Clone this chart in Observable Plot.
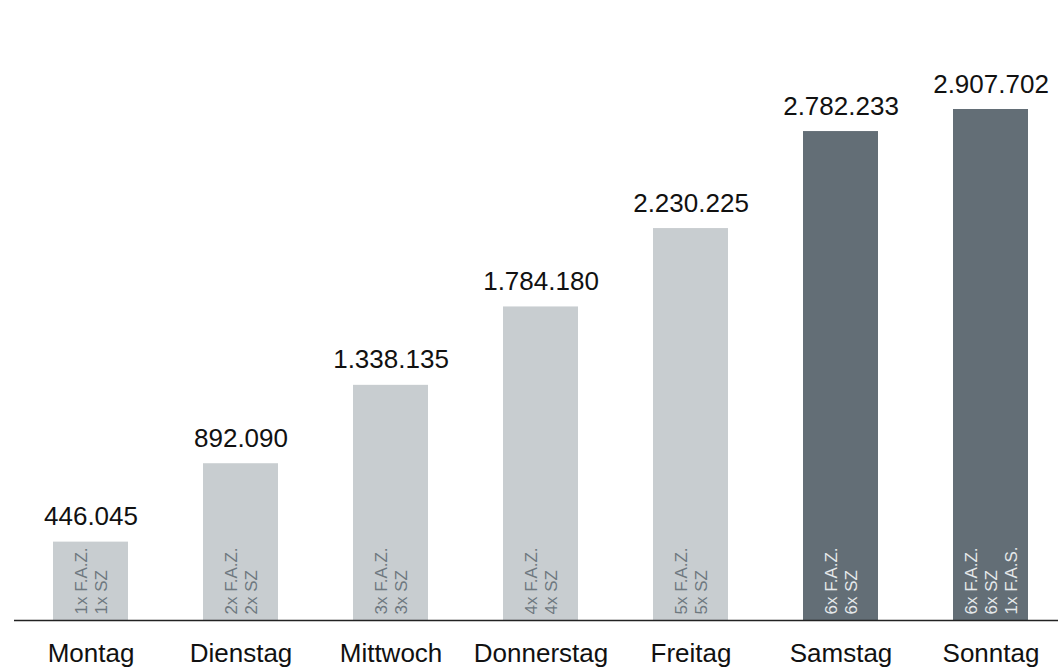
<!DOCTYPE html>
<html>
<head>
<meta charset="utf-8">
<script src="https://cdn.jsdelivr.net/npm/d3@7"></script>
<script src="https://cdn.jsdelivr.net/npm/@observablehq/plot@0.6"></script>
<style>
  html, body { margin: 0; padding: 0; background: #fff; }
  #chart svg { display: block; font-family: "Liberation Sans", Arial, sans-serif; }
</style>
</head>
<body>
<div id="chart"></div>
<script>
const days = ["Montag", "Dienstag", "Mittwoch", "Donnerstag", "Freitag", "Samstag", "Sonntag"];
const values = [446045, 892090, 1338135, 1784180, 2230225, 2782233, 2907702];
const insideLabels = [
  "1x F.A.Z.\n1x SZ",
  "2x F.A.Z.\n2x SZ",
  "3x F.A.Z.\n3x SZ",
  "4x F.A.Z.\n4x SZ",
  "5x F.A.Z.\n5x SZ",
  "6x F.A.Z.\n6x SZ",
  "6x F.A.Z.\n6x SZ\n1x F.A.S."
];
const groups = ["werktag", "werktag", "werktag", "werktag", "werktag", "wochenende", "wochenende"];

const data = days.map((d, i) => ({day: d, value: values[i], inside: insideLabels[i], group: groups[i]}));

const de = d3.formatLocale({decimal: ",", thousands: ".", grouping: [3], currency: ["", " €"]});
const fmt = de.format(",d");

const chart = Plot.plot({
  width: 1058,
  height: 670,
  marginLeft: 14,
  marginRight: 0,
  marginTop: 109,
  marginBottom: 50,
  style: {fontFamily: "Liberation Sans, Arial, sans-serif", background: "#fff"},
  x: {type: "band", domain: days, range: [14.5, 1066], paddingInner: 0.5, paddingOuter: 0.25, label: null},
  y: {domain: [0, 2907702], axis: null},
  color: {domain: ["werktag", "wochenende"], range: ["#c8cdd0", "#636e76"]},
  marks: [
    Plot.barY(data, {x: "day", y: "value", fill: "group"}),
    Plot.text(data, {
      x: "day", y: 0, text: "inside", rotate: -90, textAnchor: "start", lineAnchor: "middle",
      lineHeight: 1.18, dy: -6, fontSize: 17,
      fill: d => d.group === "werktag" ? "#6e787f" : "#e6e9eb"
    }),
    Plot.text(data, {
      x: "day", y: "value", text: d => fmt(d.value), lineAnchor: "bottom", dy: -17,
      fontSize: 26, fill: "#111"
    }),
    Plot.ruleY([0], {stroke: "#222", strokeWidth: 1.5}),
    Plot.axisX({tickSize: 0, tickPadding: 23, fontSize: 26, color: "#111", label: null})
  ]
});
document.getElementById("chart").append(chart);
</script>
</body>
</html>
